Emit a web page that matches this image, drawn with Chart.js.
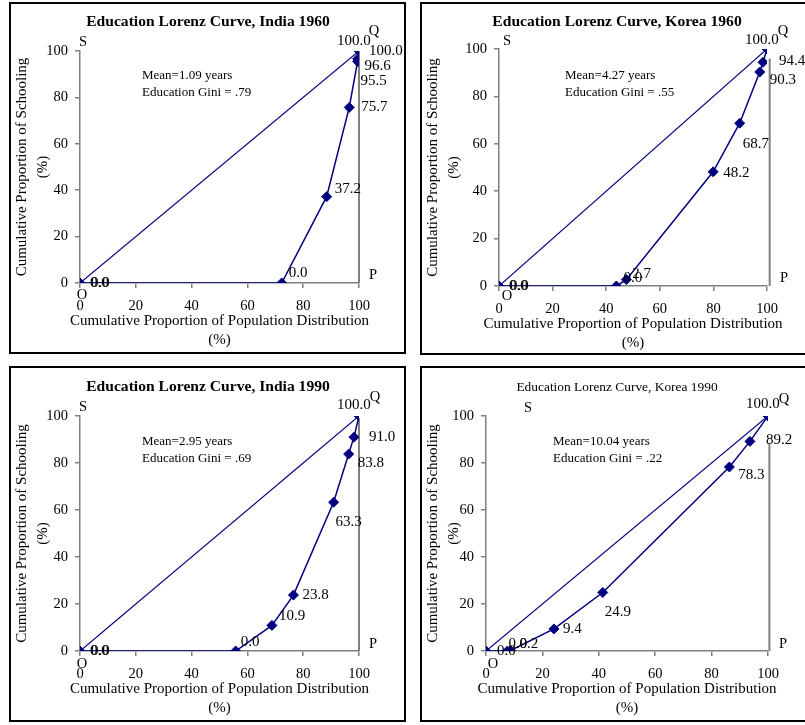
<!DOCTYPE html>
<html>
<head>
<meta charset="utf-8">
<script src="https://cdn.jsdelivr.net/npm/chart.js@4.4.1/dist/chart.umd.min.js"></script>
<style>
  html, body { margin: 0; padding: 0; background: #fff; overflow: hidden; width: 805px; height: 725px; }
  canvas { position: absolute; }
</style>
</head>
<body>
<canvas id="india1960" width="397" height="352" style="left:9px;top:2px"></canvas>
<canvas id="korea1960" width="390" height="353" style="left:420px;top:2px"></canvas>
<canvas id="india1990" width="397" height="356" style="left:9px;top:366px"></canvas>
<canvas id="korea1990" width="390" height="356" style="left:420px;top:366px"></canvas>
<script>
// cumulative population share (x) and cumulative schooling share (y), in %
const india1960X = [0, 72.3, 88.4, 96.5, 99.5, 99.5, 100];
const india1960Y = [0, 0, 37.2, 75.7, 95.5, 96.6, 100];
const korea1960X = [0, 43.8, 47.5, 79.9, 89.8, 97.3, 98.5, 100];
const korea1960Y = [0, 0, 2.7, 48.2, 68.7, 90.3, 94.4, 100];
const india1990X = [0, 55.8, 68.8, 76.5, 90.9, 96.3, 98.2, 100];
const india1990Y = [0, 0, 10.9, 23.8, 63.3, 83.8, 91.0, 100];
const korea1990X = [0, 7.6, 8.7, 24.1, 41.4, 86.3, 93.6, 100];
const korea1990Y = [0, 0, 0.2, 9.4, 24.9, 78.3, 89.2, 100];

// line of perfect equality O-Q and the P-Q side
const equalityX = [0, 100];
const equalityY = [0, 100];
const pqX = [100, 101, 100, 100.5];
const pqTop = [100, 96, 99, 88.5];

const meanYears = ['1.09', '4.27', '2.95', '10.04'];
const giniValues = ['.79', '.55', '.69', '.22'];
const axisTicks = [0, 20, 40, 60, 80, 100];

const NAVY = '#000080';
const GREY = '#808080';
const SERIF = "'Liberation Serif', 'Times New Roman', serif";

Chart.defaults.font.family = SERIF;
Chart.defaults.color = '#000';

// label offsets in px from each marker: [dx, dy], null = no label
const panels = [
  {
    id: 'india1960', title: 'Education Lorenz Curve, India 1960', bold: true, titlePos: [199, 20],
    x: india1960X, y: india1960Y,
    labelPos: [[10, 0], [7, -10], [8, -8], [12, 0], [3, 20], [7, 7], [-22, -10]],
    eqLabelPos: [[11, 0], [10, 0]],
    corners: { S: [3, -9], Q: [15, -20], P: [14, -8], O: [2, 12] },
    notePos: [62, 25], yAxisW: 71, top: 49, right: 47, xAxisH: 71
  },
  {
    id: 'korea1960', title: 'Education Lorenz Curve, Korea 1960', bold: true, titlePos: [197, 20],
    x: korea1960X, y: korea1960Y,
    labelPos: [[10, 0], [7, -8], [6, -6], [10, 1], [3, 21], [10, 8], [16, -1], [-22, -9]],
    eqLabelPos: [[11, 0], null],
    corners: { S: [8, -8], Q: [16, -18], P: [17, -8], O: [8, 10] },
    notePos: [66, 27], yAxisW: 79, top: 47, right: 43, xAxisH: 69
  },
  {
    id: 'india1990', title: 'Education Lorenz Curve, India 1990', bold: true, titlePos: [199, 21],
    x: india1990X, y: india1990Y,
    labelPos: [[10, 0], [5, -9], [7, -9], [9, 0], [2, 20], [9, 9], [15, 0], [-22, -11]],
    eqLabelPos: [[11, 0], null],
    corners: { S: [3, -9], Q: [16, -19], P: [14, -7], O: [2, 13] },
    notePos: [62, 26], yAxisW: 71, top: 50, right: 47, xAxisH: 71
  },
  {
    id: 'korea1990', title: 'Education Lorenz Curve, Korea 1990', bold: false, titlePos: [197, 21],
    x: korea1990X, y: korea1990Y,
    labelPos: [[11, 0], [1, -7], [9, -6], [9, 0], [2, 20], [9, 8], [16, -1], [-22, -12]],
    eqLabelPos: null,
    corners: { S: [42, -8], Q: [16, -17], P: [15, -7], O: [7, 13] },
    notePos: [67, 26], yAxisW: 66, top: 50, right: 42, xAxisH: 71
  }
];

const xTitle = ['Cumulative Proportion of Population Distribution', '(%)'];
const yTitle = ['Cumulative Proportion of Schooling', '(%)'];

const toPoints = (xs, ys) => xs.map((x, i) => ({ x: x, y: ys[i] }));

// value labels next to markers
const pointLabels = {
  id: 'pointLabels',
  afterDatasetsDraw(chart) {
    const ctx = chart.ctx;
    ctx.save();
    ctx.font = '15px ' + SERIF;
    ctx.fillStyle = '#000';
    ctx.textAlign = 'left';
    ctx.textBaseline = 'middle';
    chart.data.datasets.forEach((ds, i) => {
      if (!ds.labelPos) return;
      chart.getDatasetMeta(i).data.forEach((pt, j) => {
        const off = ds.labelPos[j];
        if (!off) return;
        ctx.fillText(ds.data[j].y.toFixed(1), pt.x + off[0], pt.y + off[1]);
      });
    });
    ctx.restore();
  }
};

// frame, title, x title (wider than the plot, so not the scale title), S/Q/P/O and the note
const panelText = {
  id: 'panelText',
  afterDraw(chart, args, opts) {
    const ctx = chart.ctx;
    const xs = chart.scales.x, ys = chart.scales.y;
    const area = chart.chartArea;
    ctx.save();
    ctx.strokeStyle = '#000';
    ctx.lineWidth = 2;
    ctx.strokeRect(1, 1, chart.width - 2, chart.height - 2);

    ctx.fillStyle = '#000';
    ctx.textBaseline = 'middle';
    ctx.textAlign = 'center';
    ctx.font = opts.bold ? 'bold 15.6px ' + SERIF : '13.4px ' + SERIF;
    ctx.fillText(opts.title, opts.titlePos[0], opts.titlePos[1]);

    ctx.font = '15px ' + SERIF;
    const cx = (area.left + area.right) / 2;
    ctx.fillText(xTitle[0], cx, area.bottom + 38.5);
    ctx.fillText(xTitle[1], cx, area.bottom + 57.5);

    ctx.font = '14.5px ' + SERIF;
    const anchors = { S: [0, 100], Q: [100, 100], P: [100, 0], O: [0, 0] };
    Object.keys(anchors).forEach((k) => {
      const px = xs.getPixelForValue(anchors[k][0]) + opts.corners[k][0];
      const py = ys.getPixelForValue(anchors[k][1]) + opts.corners[k][1];
      ctx.fillText(k, px, py);
    });

    ctx.font = '13px ' + SERIF;
    ctx.textAlign = 'left';
    ctx.fillText('Mean=' + opts.mean + ' years', area.left + opts.notePos[0], area.top + opts.notePos[1]);
    ctx.fillText('Education Gini = ' + opts.gini, area.left + opts.notePos[0], area.top + opts.notePos[1] + 16.3);
    ctx.restore();
  }
};

panels.forEach((p, n) => {
  const ctx = document.getElementById(p.id).getContext('2d');
  new Chart(ctx, {
    type: 'scatter',
    data: {
      datasets: [
        {
          data: toPoints(p.x, p.y),
          showLine: true,
          borderColor: NAVY,
          borderWidth: 1.5,
          pointStyle: 'rectRot',
          pointRadius: 5,
          pointBackgroundColor: NAVY,
          pointBorderColor: NAVY,
          pointBorderWidth: 1,
          labelPos: p.labelPos,
          order: 0
        },
        {
          data: toPoints(equalityX, equalityY),
          showLine: true,
          borderColor: NAVY,
          borderWidth: 1.2,
          pointRadius: 0,
          labelPos: p.eqLabelPos,
          order: 1
        },
        {
          data: [{ x: pqX[n], y: 0 }, { x: pqX[n], y: pqTop[n] }],
          showLine: true,
          borderColor: GREY,
          borderWidth: 2,
          pointRadius: 0,
          clip: false,
          order: 2
        }
      ]
    },
    options: {
      responsive: false,
      animation: false,
      devicePixelRatio: 1,
      events: [],
      layout: {
        autoPadding: false,
        padding: { left: 0, top: p.top, right: p.right, bottom: 0 }
      },
      plugins: {
        legend: { display: false },
        tooltip: { enabled: false },
        panelText: {
          title: p.title, bold: p.bold, titlePos: p.titlePos, corners: p.corners,
          notePos: p.notePos, mean: meanYears[n], gini: giniValues[n]
        }
      },
      scales: {
        x: {
          type: 'linear',
          position: 'bottom',
          min: axisTicks[0],
          max: axisTicks[axisTicks.length - 1],
          afterBuildTicks: (s) => { s.ticks = axisTicks.map((v) => ({ value: v })); },
          afterFit: (s) => { s.height = p.xAxisH; s.paddingLeft = 0; s.paddingRight = 0; },
          grid: { drawOnChartArea: false, tickLength: 5, color: GREY, lineWidth: 1.5 },
          border: { color: GREY, width: 1.5 },
          ticks: { font: { size: 14.5 }, padding: 9.5, maxRotation: 0 },
          title: { display: false }
        },
        y: {
          type: 'linear',
          position: 'left',
          min: axisTicks[0],
          max: axisTicks[axisTicks.length - 1],
          afterBuildTicks: (s) => { s.ticks = axisTicks.map((v) => ({ value: v })); },
          afterFit: (s) => { s.width = p.yAxisW; s.paddingTop = 0; s.paddingBottom = 0; },
          grid: { drawOnChartArea: false, tickLength: 5, color: GREY, lineWidth: 1.5 },
          border: { color: GREY, width: 1.5 },
          ticks: { font: { size: 14.5 }, padding: 7 },
          title: {
            display: true,
            text: yTitle,
            font: { size: 15, lineHeight: 1.4 },
            padding: { top: 2.8, bottom: 0 }
          }
        }
      }
    },
    plugins: [pointLabels, panelText]
  });
});
</script>
</body>
</html>
